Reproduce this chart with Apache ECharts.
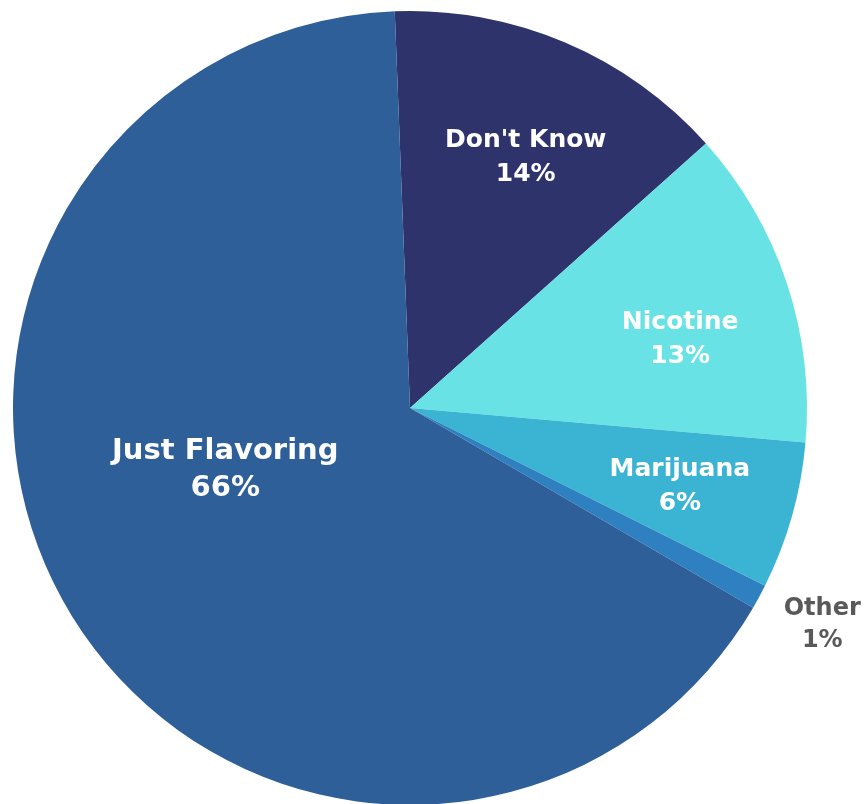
<!DOCTYPE html>
<html>
<head>
<meta charset="utf-8">
<script src="https://cdn.jsdelivr.net/npm/echarts@6/dist/echarts.min.js"></script>
<style>
html,body{margin:0;padding:0;background:#fff;}
#chart{width:867px;height:804px;}
</style>
</head>
<body>
<div id="chart"></div>
<script>
var categories = ["Don't Know", "Nicotine", "Marijuana", "Other", "Just Flavoring"];
var values = [14, 13, 6, 1, 66];
var colors = ["#2e336b", "#69e2e5", "#3bb4d4", "#2f80c0", "#2e5f98"];

var labelStyles = [
  {offset: [37, -65], fontSize: 25, color: '#ffffff', lineHeight: 34},
  {offset: [79, -5], fontSize: 25, color: '#ffffff', lineHeight: 34},
  {offset: [76, 24], fontSize: 25, color: '#ffffff', lineHeight: 34},
  {offset: [235, 121], fontSize: 24, color: '#595959', lineHeight: 32},
  {offset: [-12, -42], fontSize: 29, color: '#ffffff', lineHeight: 37}
];

var data = categories.map(function (c, i) {
  var s = labelStyles[i];
  return {
    name: c,
    value: values[i],
    itemStyle: {color: colors[i]},
    label: {offset: s.offset, fontSize: s.fontSize, color: s.color, lineHeight: s.lineHeight}
  };
});

var chart = echarts.init(document.getElementById('chart'));
chart.setOption({
  animation: false,
  series: [{
    type: 'pie',
    center: [410, 408],
    radius: [0, 397],
    startAngle: 92.2,
    clockwise: true,
    avoidLabelOverlap: false,
    itemStyle: {borderWidth: 0},
    label: {
      show: true,
      position: 'inside',
      fontFamily: 'DejaVu Sans',
      fontWeight: 'bold',
      align: 'center',
      verticalAlign: 'middle',
      formatter: function (p) { return p.name + '\n' + p.value + '%'; }
    },
    labelLine: {show: false},
    data: data
  }]
});
</script>
</body>
</html>
